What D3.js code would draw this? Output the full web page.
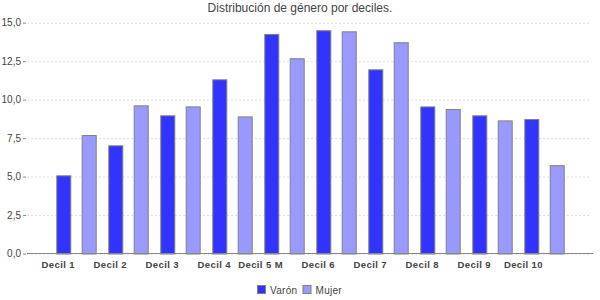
<!DOCTYPE html>
<html>
<head>
<meta charset="utf-8">
<script src="https://cdn.jsdelivr.net/npm/d3@7"></script>
<style>
  body { margin: 0; background: #fff; }
  text { font-family: "Liberation Sans", Arial, sans-serif; fill: #444; }
</style>
</head>
<body>
<svg id="chart" width="600" height="300"></svg>
<script>
var categories = ["Decil 1", "Decil 2", "Decil 3", "Decil 4", "Decil 5 M",
  "Decil 6", "Decil 7", "Decil 8", "Decil 9", "Decil 10"];
var series = ["Varón", "Mujer"];
var varon = [5.08, 7.03, 8.98, 11.32, 14.27, 14.51, 11.97, 9.56, 8.98, 8.74];
var mujer = [7.70, 9.63, 9.56, 8.91, 12.69, 14.44, 13.73, 9.39, 8.65, 5.74];
var yTicks = [0, 2.5, 5, 7.5, 10, 12.5, 15];
var colors = ["#3333ff", "#9999ff"];

var rows = categories.map(function (c, i) {
  return {cat: c, values: [varon[i], mujer[i]]};
});

var svg = d3.select("#chart");
var plotLeft = 27, plotRight = 593, plotTop = 22.7, plotBottom = 253.5;

var x0 = d3.scaleBand().domain(categories).range([plotLeft, plotRight])
  .paddingInner(0).paddingOuter(0.442);
var x1 = d3.scaleBand().domain(series).range([0, x0.bandwidth()])
  .paddingInner(0.449).paddingOuter(0.248);
var y = d3.scaleLinear().domain([0, 15]).range([plotBottom, plotTop]);

var fmt = function (d) { return d3.format(".1f")(d).replace(".", ","); };

// gridlines
svg.append("g")
  .attr("transform", "translate(" + plotLeft + ",0)")
  .call(d3.axisLeft(y).tickValues(yTicks).tickSize(-(plotRight - plotLeft - 2)).tickFormat(""))
  .call(function (g) {
    g.select(".domain").remove();
    g.selectAll("line").attr("stroke", "#dedede").attr("stroke-dasharray", "2,2");
  });

// y axis labels
svg.append("g")
  .attr("transform", "translate(" + (plotLeft - 1) + ",0)")
  .call(d3.axisLeft(y).tickValues(yTicks).tickSize(3).tickPadding(2).tickFormat(fmt))
  .call(function (g) {
    g.select(".domain").remove();
    g.selectAll("line").attr("stroke", "#888");
    g.selectAll("text").style("font-size", "10px").attr("fill", "#444");
  });

// bars
var groups = svg.append("g").selectAll("g")
  .data(rows)
  .enter().append("g")
  .attr("transform", function (d) { return "translate(" + x0(d.cat) + ",0)"; });

groups.selectAll("rect")
  .data(function (d) { return d.values.map(function (v, i) { return {s: series[i], v: v, i: i}; }); })
  .enter().append("rect")
  .attr("x", function (d) { return x1(d.s) + 0.5; })
  .attr("y", function (d) { return y(d.v) + 0.5; })
  .attr("width", x1.bandwidth())
  .attr("height", function (d) { return y(0) - y(d.v); })
  .attr("fill", function (d) { return colors[d.i]; })
  .attr("stroke", "#808080")
  .attr("stroke-width", 1);

// x axis
svg.append("line")
  .attr("x1", plotLeft).attr("x2", plotRight)
  .attr("y1", plotBottom).attr("y2", plotBottom)
  .attr("stroke", "#888");

svg.append("g").selectAll("text")
  .data(categories)
  .enter().append("text")
  .attr("x", function (d) { return x0(d) + x0.bandwidth() / 2 - 1; })
  .attr("y", 267.5)
  .attr("text-anchor", "end")
  .style("font-size", "9.5px")
  .style("font-weight", "bold")
  .style("letter-spacing", "0.4px")
  .attr("fill", "#222")
  .text(function (d) { return d; });

// title
svg.append("text")
  .attr("x", 300).attr("y", 12)
  .attr("text-anchor", "middle")
  .style("font-size", "12px")
  .attr("fill", "#333")
  .text("Distribución de género por deciles.");

// legend
var legendX = [257.5, 303];
var legend = svg.append("g").selectAll("g")
  .data(series)
  .enter().append("g")
  .attr("transform", function (d, i) { return "translate(" + legendX[i] + ",285.5)"; });
legend.append("rect")
  .attr("width", 8).attr("height", 8)
  .attr("fill", function (d, i) { return colors[i]; })
  .attr("stroke", "#808080");
legend.append("text")
  .attr("x", 12.5).attr("y", 8)
  .style("font-size", "10px")
  .style("letter-spacing", "0.3px")
  .attr("fill", "#444")
  .text(function (d) { return d; });
</script>
</body>
</html>
